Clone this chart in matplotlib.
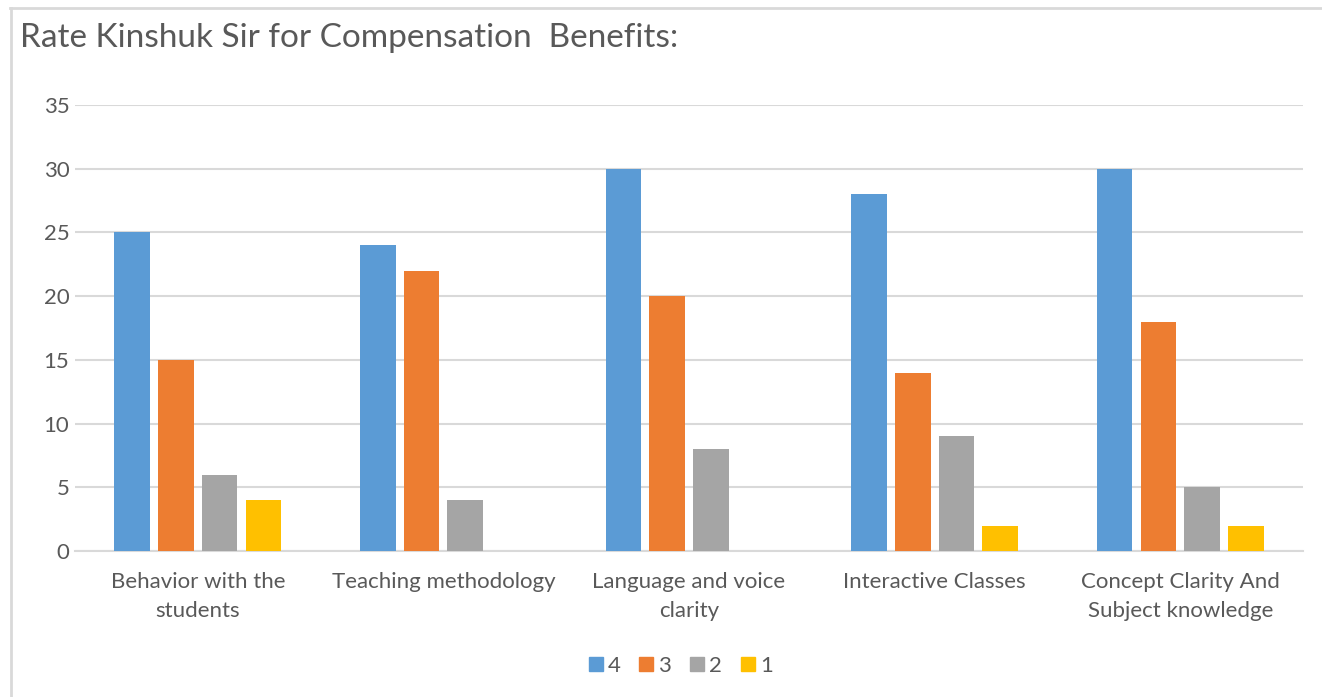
import matplotlib
matplotlib.use("Agg")
import matplotlib.pyplot as plt
import numpy as np
from matplotlib.lines import Line2D

categories = ["Behavior with the\nstudents", "Teaching methodology",
              "Language and voice\nclarity", "Interactive Classes",
              "Concept Clarity And\nSubject knowledge"]
series_names = ["4", "3", "2", "1"]
s4 = [25, 24, 30, 28, 30]
s3 = [15, 22, 20, 14, 18]
s2 = [6, 4, 8, 9, 5]
s1 = [4, 0, 0, 2, 2]
colors = ["#5B9BD5", "#ED7D31", "#A5A5A5", "#FFC000"]
title = "Rate Kinshuk Sir for Compensation  Benefits:"

plt.rcParams['font.family'] = ['Lato', 'DejaVu Sans']

fig = plt.figure(figsize=(13.22, 6.97), dpi=100)
W, H = 1322, 697
ax = fig.add_axes([75 / W, 1 - 551 / H, (1303 - 75) / W, (551 - 105) / H])

x = np.arange(len(categories))
step = 0.178
bw = 0.145
for i, (vals, c) in enumerate(zip([s4, s3, s2, s1], colors)):
    ax.bar(x + (i - 1.5) * step, vals, width=bw, color=c, zorder=3)

ax.set_xlim(-0.5, len(categories) - 0.5)
ax.set_ylim(0, 35)
ax.set_yticks(range(0, 36, 5))
ax.yaxis.grid(True, color="#D9D9D9", linewidth=1.5, zorder=0)
for s in ["top", "right", "left"]:
    ax.spines[s].set_visible(False)
ax.spines["bottom"].set_color("#D9D9D9")
ax.spines["bottom"].set_linewidth(1.5)
ax.tick_params(axis="both", length=0, colors="#595959", labelsize=16)
ax.tick_params(axis="y", pad=4)
ax.tick_params(axis="x", pad=15)
ax.set_xticks(x)
ax.set_xticklabels(categories, linespacing=1.55)

fig.text(20 / W, 1 - 38 / H, title, fontsize=24, color="#595959",
         va="center", ha="left")

handles = [Line2D([], [], marker="s", linestyle="none", markersize=10,
                  markerfacecolor=c, markeredgecolor=c) for c in colors]
fig.legend(handles, series_names, loc="center", bbox_to_anchor=(678 / W, 1 - 666 / H),
           ncol=4, frameon=False, fontsize=16, labelcolor="#595959",
           handletextpad=0.0, columnspacing=0.6, handlelength=1.1)

# outer chart border (top and left visible)
fig.add_artist(Line2D([10 / W, 1], [1 - 8 / H, 1 - 8 / H], color="#D9D9D9", linewidth=2,
                      transform=fig.transFigure))
fig.add_artist(Line2D([11 / W, 11 / W], [1 - 8 / H, 0], color="#D9D9D9", linewidth=2,
                      transform=fig.transFigure))

fig.savefig("out.png", dpi=100)
